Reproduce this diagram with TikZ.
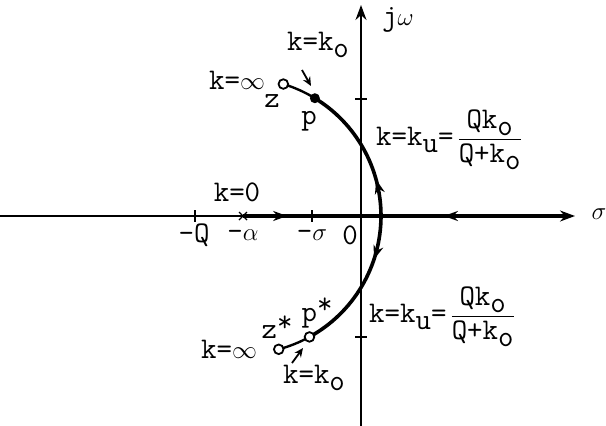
\documentclass[tikz,border=0pt]{standalone}
\usepackage{amsmath}
\usetikzlibrary{arrows.meta,decorations.markings,calc}
\newcommand{\lowsub}[1]{\raisebox{-0.55ex}{#1}}
\newcommand{\upstar}{\raisebox{0.55ex}{*}}

\begin{document}
\begin{tikzpicture}[x=1pt,y=-1pt,>=Stealth,font=\fontsize{30}{34}\selectfont\ttfamily,
  axis/.style={line width=2pt},
  locus/.style={line width=3.6pt},
  tickmark/.style={line width=1.4pt},
  midarrow/.style={postaction={decorate},decoration={markings,
    mark=at position #1 with {\arrow{Stealth[length=14pt,width=10pt]}}}}]
\useasboundingbox (0,0) rectangle (606,426);
% axes
\coordinate (xl) at (0,216);
\coordinate (xr) at (575,216);
\coordinate (yb) at (361,426);
\coordinate (yt) at (361,5);
\draw[axis,-{Stealth[length=15pt,width=11pt]}] (xl) -- (xr);
\draw[axis,-{Stealth[length=15pt,width=11pt]}] (yb) -- (yt);
\foreach \x in {195,312} \draw[tickmark] (\x,210) -- (\x,222);
\foreach \y in {99,337} \draw[tickmark] (355,\y) -- (367,\y);
\draw[tickmark] (239,212) -- (247,220) (239,220) -- (247,212);
% circle of the locus, centre at -alpha
\coordinate (alpha) at (243,216);
\coordinate (z) at ($(alpha)+(-73:138)$);
\coordinate (p) at ($(alpha)+(-58.6:138)$);
\coordinate (brk) at ($(alpha)+(0:138)$);
\coordinate (ps) at ($(alpha)+(61.2:138)$);
\coordinate (zs) at ($(alpha)+(75:138)$);
\coordinate (xe) at (566,216);
\draw[locus,midarrow=0.32] (alpha) -- (brk);
\draw[locus,midarrow=0.66] (xe) -- (brk);
\draw[locus,midarrow=0.26] (brk) arc (0:-58.6:138);
\draw[locus,midarrow=0.3] (brk) arc (0:61.2:138);
\draw[line width=2.4pt] (z) arc (-73:-58.6:138);
\draw[line width=2.4pt] (ps) arc (61.2:75:138);
\fill (p) circle (5);
\foreach \c in {z,ps,zs} \draw[line width=1.8pt,fill=white] (\c) circle (4.8);
% small pointers
\coordinate (ta) at (302,70);
\coordinate (tb) at (311,86);
\coordinate (ba) at (292,363);
\coordinate (bb) at (303,348);
\draw[line width=1.8pt,-{Stealth[length=9pt,width=8pt]}] (ta) -- (tb);
\draw[line width=1.8pt,-{Stealth[length=9pt,width=8pt]}] (ba) -- (bb);
% labels
\node (jw) at (398,20) {j$\omega$};
\node (sig) at (599,214) {$\sigma$};
\node (kot) at (318,45) {k=k\lowsub{o}};
\node (kinft) at (237,80) {k=$\infty$};
\node (zl) at (272,101) {z};
\node (pl) at (309,121) {p};
\node (kzero) at (237,192) {k=0};
\node (mq) at (194,235) {-Q};
\node (ma) at (243,235) {-$\alpha$};
\node (ms) at (312,235) {-$\sigma$};
\node (zero) at (350,235) {0};
\node[anchor=west,inner sep=0pt] (kut) at (376,140)
  {k=k\lowsub{u}=$\,\dfrac{\hbox{Qk\lowsub{o}}}{\hbox{Q+k\lowsub{o}}}$};
\node[anchor=west,inner sep=0pt] (kub) at (369,317)
  {k=k\lowsub{u}=$\,\dfrac{\hbox{Qk\lowsub{o}}}{\hbox{Q+k\lowsub{o}}}$};
\node (zsl) at (277,327) {z\upstar};
\node (psl) at (317,313) {p\upstar};
\node (kinfb) at (229,349) {k=$\infty$};
\node (kob) at (314,378) {k=k\lowsub{o}};
\end{tikzpicture}
\end{document}
